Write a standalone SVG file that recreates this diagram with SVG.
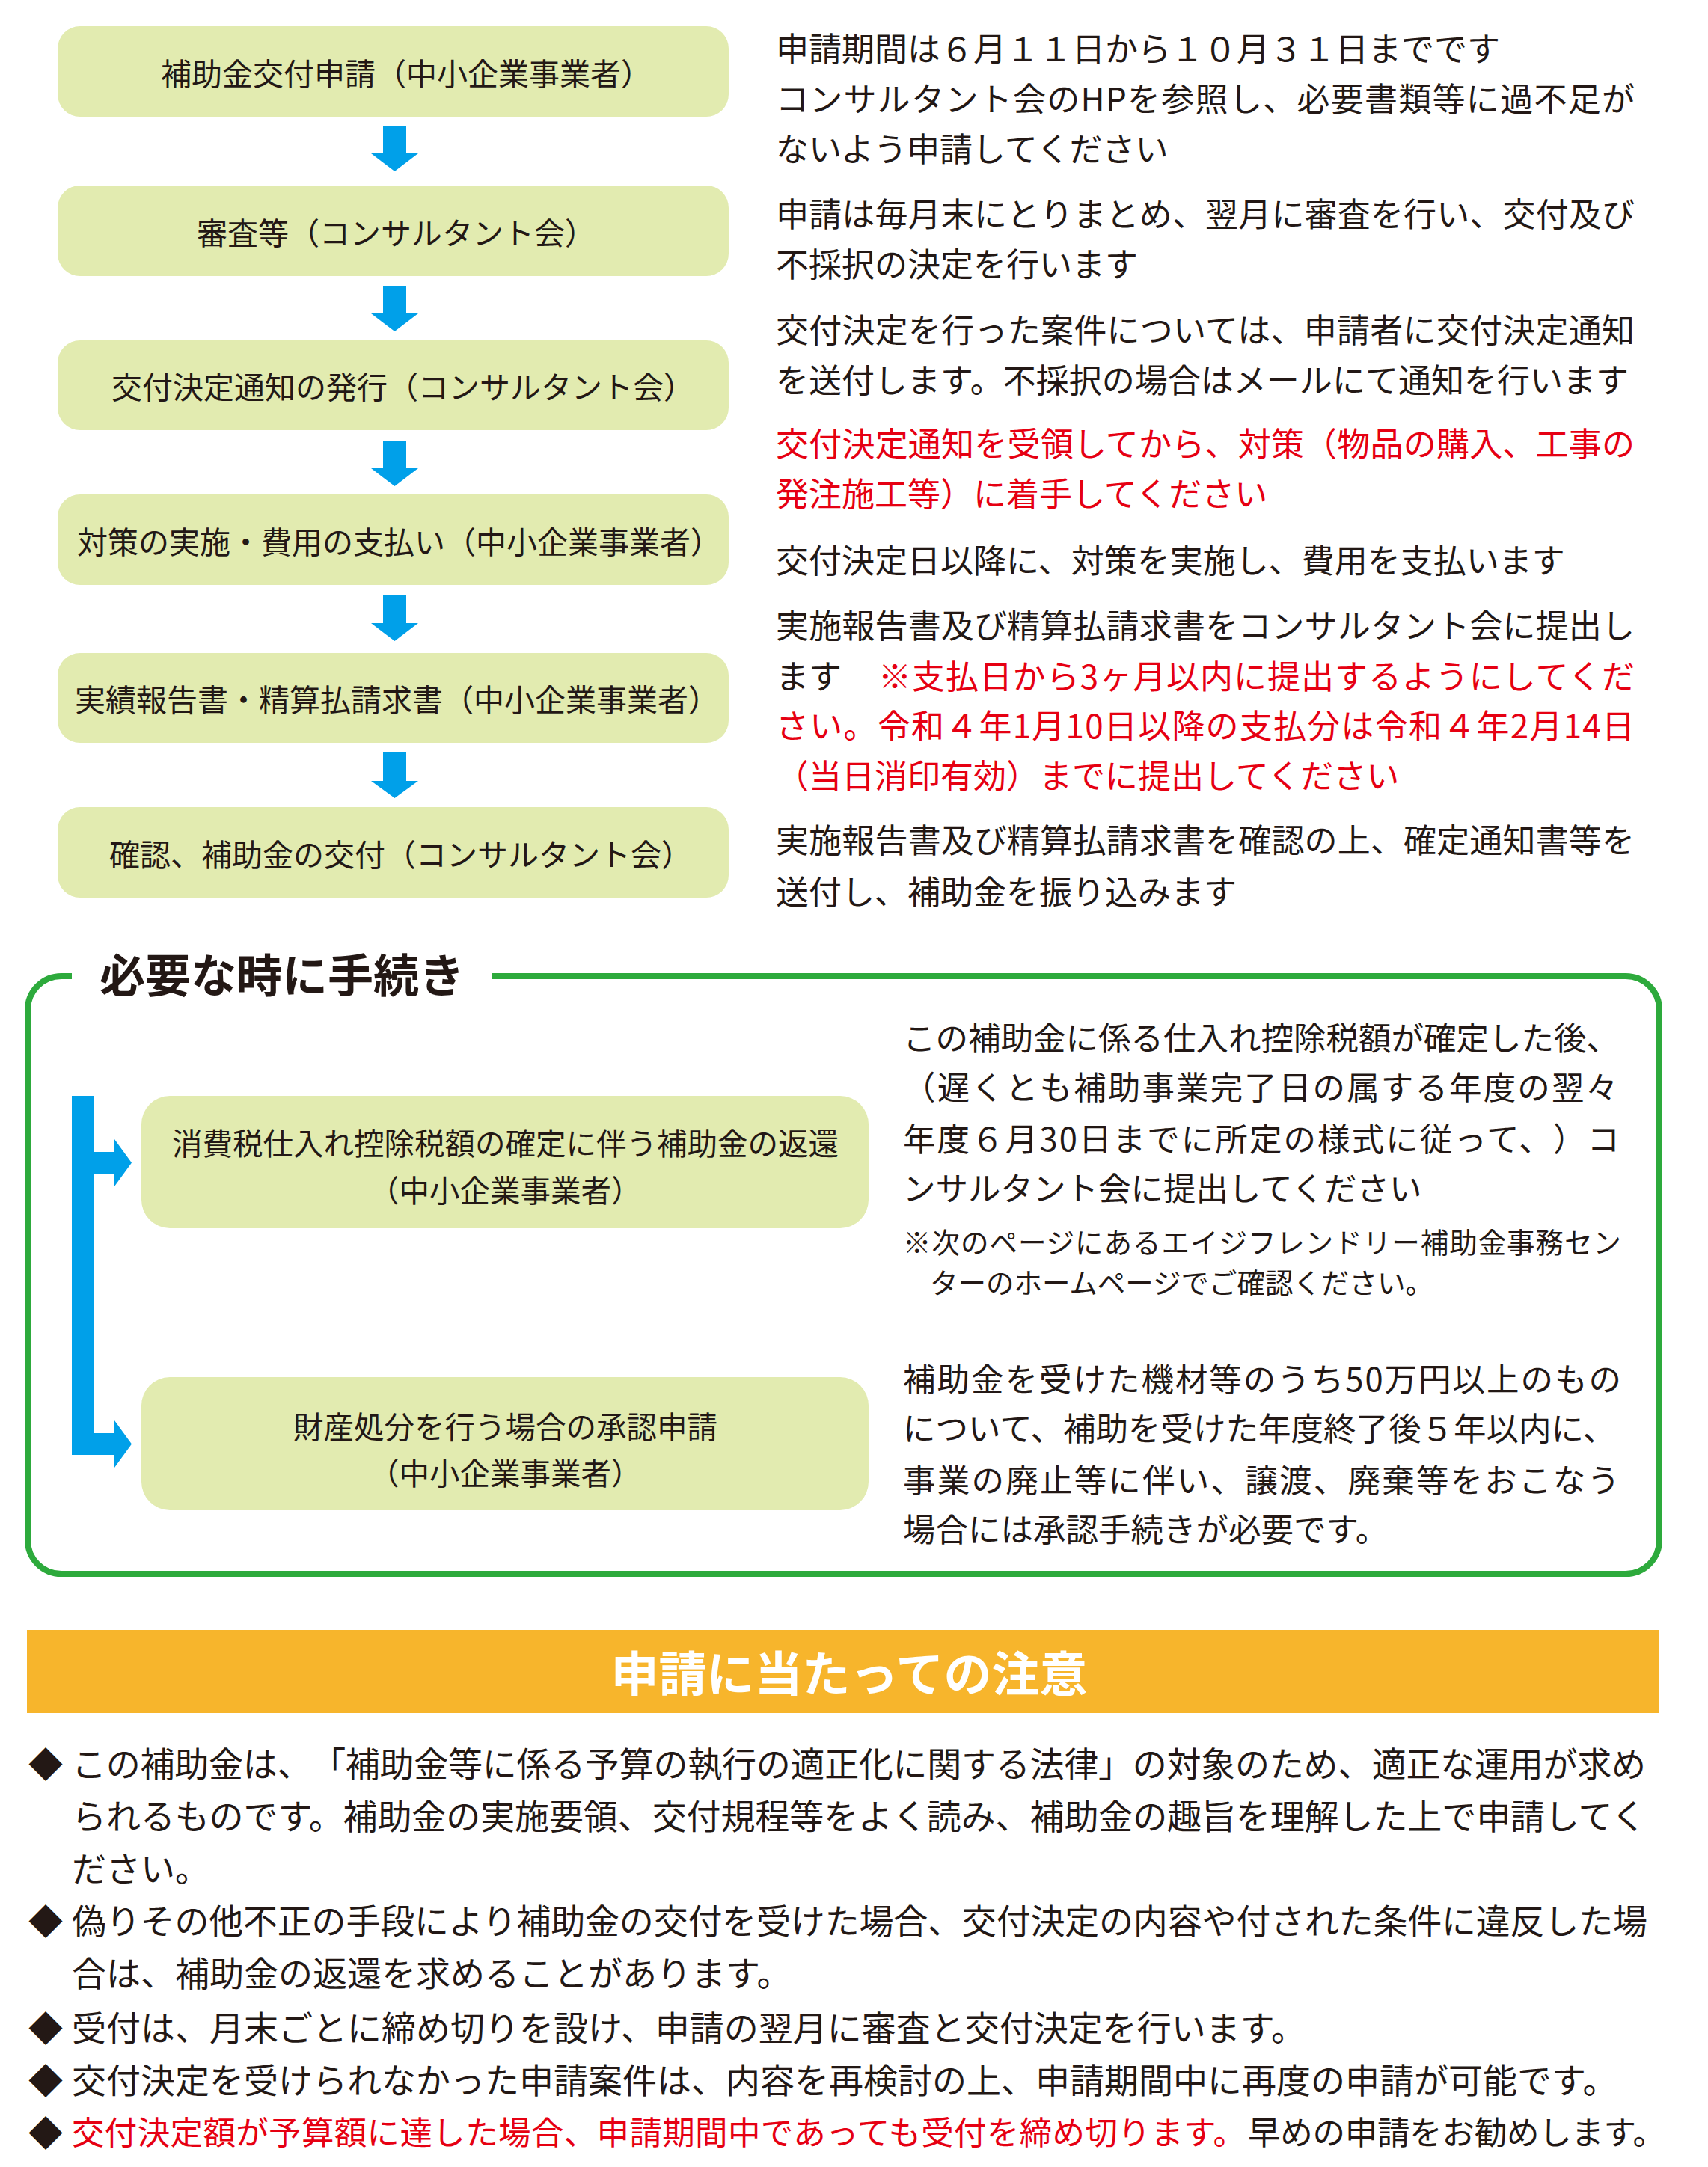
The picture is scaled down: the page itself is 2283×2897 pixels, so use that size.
<svg xmlns="http://www.w3.org/2000/svg" width="2283" height="2897" viewBox="0 0 2283 2897">
<style>
text { font-family: "Noto Sans CJK JP", "Noto Sans", sans-serif; fill: #231815; dominant-baseline: central; text-spacing-trim: space-all; }
.bx { font-size: 41px; }
.gb { font-size: 40.5px; }
.rt { font-size: 44px; }
.gt { font-size: 43.5px; }
.sm { font-size: 37.5px; }
.bl { font-size: 46px; }
.red { fill: #E60012; }
.node { fill: #E2EBB0; }
.arrow { fill: #00A0E9; }
</style>
<rect width="2283" height="2897" fill="#ffffff"/>

<!-- flow nodes -->
<g id="node-apply"><rect class="node" x="77" y="35" width="897" height="121" rx="30"/><text class="bx" x="215" y="95.5">補助金交付申請（中小企業事業者）</text></g>
<g id="node-review"><rect class="node" x="77" y="248" width="897" height="121" rx="30"/><text class="bx" x="263" y="308.5">審査等（コンサルタント会）</text></g>
<g id="node-notice"><rect class="node" x="77" y="455" width="897" height="120" rx="30"/><text class="bx" x="149" y="515">交付決定通知の発行（コンサルタント会）</text></g>
<g id="node-implement"><rect class="node" x="77" y="661" width="897" height="121" rx="30"/><text class="bx" x="103" y="721.5">対策の実施・費用の支払い（中小企業事業者）</text></g>
<g id="node-report"><rect class="node" x="77" y="873" width="897" height="120" rx="30"/><text class="bx" x="100" y="933">実績報告書・精算払請求書（中小企業事業者）</text></g>
<g id="node-grant"><rect class="node" x="77" y="1079" width="897" height="121" rx="30"/><text class="bx" x="146" y="1139.5">確認、補助金の交付（コンサルタント会）</text></g>

<!-- connectors -->
<g id="connectors">
<polygon class="arrow" points="512,168 543,168 543,205 559,205 527.5,229 496,205 512,205"/>
<polygon class="arrow" points="512,382 543,382 543,419 559,419 527.5,443 496,419 512,419"/>
<polygon class="arrow" points="512,589 543,589 543,626 559,626 527.5,650 496,626 512,626"/>
<polygon class="arrow" points="512,796 543,796 543,833 559,833 527.5,857 496,833 512,833"/>
<polygon class="arrow" points="512,1005 543,1005 543,1044 559,1044 527.5,1067 496,1044 512,1044"/>
<path class="arrow" d="M96 1465 H126 V1540 H153 V1523 L176 1554.5 L153 1586 V1569 H126 V1916 H153 V1899 L176 1930.5 L153 1962 V1945 H96 Z"/>
</g>

<!-- right column descriptions -->
<g id="desc-top">
<text class="rt" x="1037" y="63">申請期間は６月１１日から１０月３１日までです</text>
<text class="rt" x="1037" y="130" textLength="1148" lengthAdjust="spacing">コンサルタント会のHPを参照し、必要書類等に過不足が</text>
<text class="rt" x="1037" y="197">ないよう申請してください</text>
<text class="rt" x="1037" y="284" textLength="1148" lengthAdjust="spacing">申請は毎月末にとりまとめ、翌月に審査を行い、交付及び</text>
<text class="rt" x="1037" y="351">不採択の決定を行います</text>
<text class="rt" x="1037" y="439" textLength="1148" lengthAdjust="spacing">交付決定を行った案件については、申請者に交付決定通知</text>
<text class="rt" x="1037" y="506" textLength="1140" lengthAdjust="spacing">を送付します。不採択の場合はメールにて通知を行います</text>
<text class="rt red" x="1037" y="591" textLength="1148" lengthAdjust="spacing">交付決定通知を受領してから、対策（物品の購入、工事の</text>
<text class="rt red" x="1037" y="658">発注施工等）に着手してください</text>
<text class="rt" x="1037" y="747">交付決定日以降に、対策を実施し、費用を支払います</text>
<text class="rt" x="1037" y="834" textLength="1148" lengthAdjust="spacing">実施報告書及び精算払請求書をコンサルタント会に提出し</text>
<text class="rt" x="1037" y="902">ます</text>
<text class="rt red" x="1174" y="902" textLength="1011" lengthAdjust="spacing">※支払日から3ヶ月以内に提出するようにしてくだ</text>
<text class="rt red" x="1037" y="968" textLength="1148" lengthAdjust="spacing">さい。令和４年1月10日以降の支払分は令和４年2月14日</text>
<text class="rt red" x="1037" y="1035">（当日消印有効）までに提出してください</text>
<text class="rt" x="1037" y="1121" textLength="1148" lengthAdjust="spacing">実施報告書及び精算払請求書を確認の上、確定通知書等を</text>
<text class="rt" x="1037" y="1190">送付し、補助金を振り込みます</text>
</g>

<!-- optional procedures section -->
<g id="section-frame">
<path d="M96 1305 H82 A45 45 0 0 0 37 1350 V2059 A45 45 0 0 0 82 2104 H2173 A45 45 0 0 0 2218 2059 V1350 A45 45 0 0 0 2173 1305 H658" fill="none" stroke="#2DAA3C" stroke-width="8"/>
<text x="133" y="1300" font-size="61" font-weight="bold">必要な時に手続き</text>
</g>
<g id="node-refund"><rect class="node" x="189" y="1465" width="972" height="177" rx="38"/>
<text class="gb" x="230" y="1526">消費税仕入れ控除税額の確定に伴う補助金の返還</text>
<text class="gb" x="493" y="1589">（中小企業事業者）</text></g>
<g id="node-disposal"><rect class="node" x="189" y="1841" width="972" height="178" rx="38"/>
<text class="gb" x="392" y="1905">財産処分を行う場合の承認申請</text>
<text class="gb" x="493" y="1967">（中小企業事業者）</text></g>
<g id="desc-optional">
<text class="gt" x="1207" y="1385">この補助金に係る仕入れ控除税額が確定した後、</text>
<text class="gt" x="1207" y="1451" textLength="956" lengthAdjust="spacing">（遅くとも補助事業完了日の属する年度の翌々</text>
<text class="gt" x="1207" y="1520" textLength="958" lengthAdjust="spacing">年度６月30日までに所定の様式に従って、）コ</text>
<text class="gt" x="1207" y="1586">ンサルタント会に提出してください</text>
<text class="sm" x="1207" y="1658" textLength="960" lengthAdjust="spacing">※次のページにあるエイジフレンドリー補助金事務セン</text>
<text class="sm" x="1243" y="1712">ターのホームページでご確認ください。</text>
<text class="gt" x="1207" y="1841" textLength="960" lengthAdjust="spacing">補助金を受けた機材等のうち50万円以上のもの</text>
<text class="gt" x="1207" y="1907">について、補助を受けた年度終了後５年以内に、</text>
<text class="gt" x="1207" y="1976" textLength="958" lengthAdjust="spacing">事業の廃止等に伴い、譲渡、廃棄等をおこなう</text>
<text class="gt" x="1207" y="2042">場合には承認手続きが必要です。</text>
</g>

<!-- notes -->
<g id="notes-banner">
<rect x="36" y="2179" width="2181" height="111" fill="#F7B52C"/>
<text x="1135" y="2233" font-size="64" font-weight="bold" text-anchor="middle" style="fill:#ffffff">申請に当たっての注意</text>
</g>
<g id="notes">
<text class="bl" x="38" y="2355">◆</text>
<text class="bl" x="96" y="2355" textLength="2104" lengthAdjust="spacing">この補助金は、「補助金等に係る予算の執行の適正化に関する法律」の対象のため、適正な運用が求め</text>
<text class="bl" x="96" y="2425" textLength="2104" lengthAdjust="spacing">られるものです。補助金の実施要領、交付規程等をよく読み、補助金の趣旨を理解した上で申請してく</text>
<text class="bl" x="96" y="2495">ださい。</text>
<text class="bl" x="38" y="2565">◆</text>
<text class="bl" x="96" y="2565" textLength="2106" lengthAdjust="spacing">偽りその他不正の手段により補助金の交付を受けた場合、交付決定の内容や付された条件に違反した場</text>
<text class="bl" x="96" y="2635">合は、補助金の返還を求めることがあります。</text>
<text class="bl" x="38" y="2708">◆</text>
<text class="bl" x="96" y="2708">受付は、月末ごとに締め切りを設け、申請の翌月に審査と交付決定を行います。</text>
<text class="bl" x="38" y="2778">◆</text>
<text class="bl" x="96" y="2778">交付決定を受けられなかった申請案件は、内容を再検討の上、申請期間中に再度の申請が可能です。</text>
<text class="bl" x="38" y="2848">◆</text>
<text class="red" x="96" y="2848" font-size="43.5" textLength="1569" lengthAdjust="spacing">交付決定額が予算額に達した場合、申請期間中であっても受付を締め切ります。</text>
<text x="1668" y="2848" font-size="43.5" textLength="558" lengthAdjust="spacing">早めの申請をお勧めします。</text>
</g>
</svg>
